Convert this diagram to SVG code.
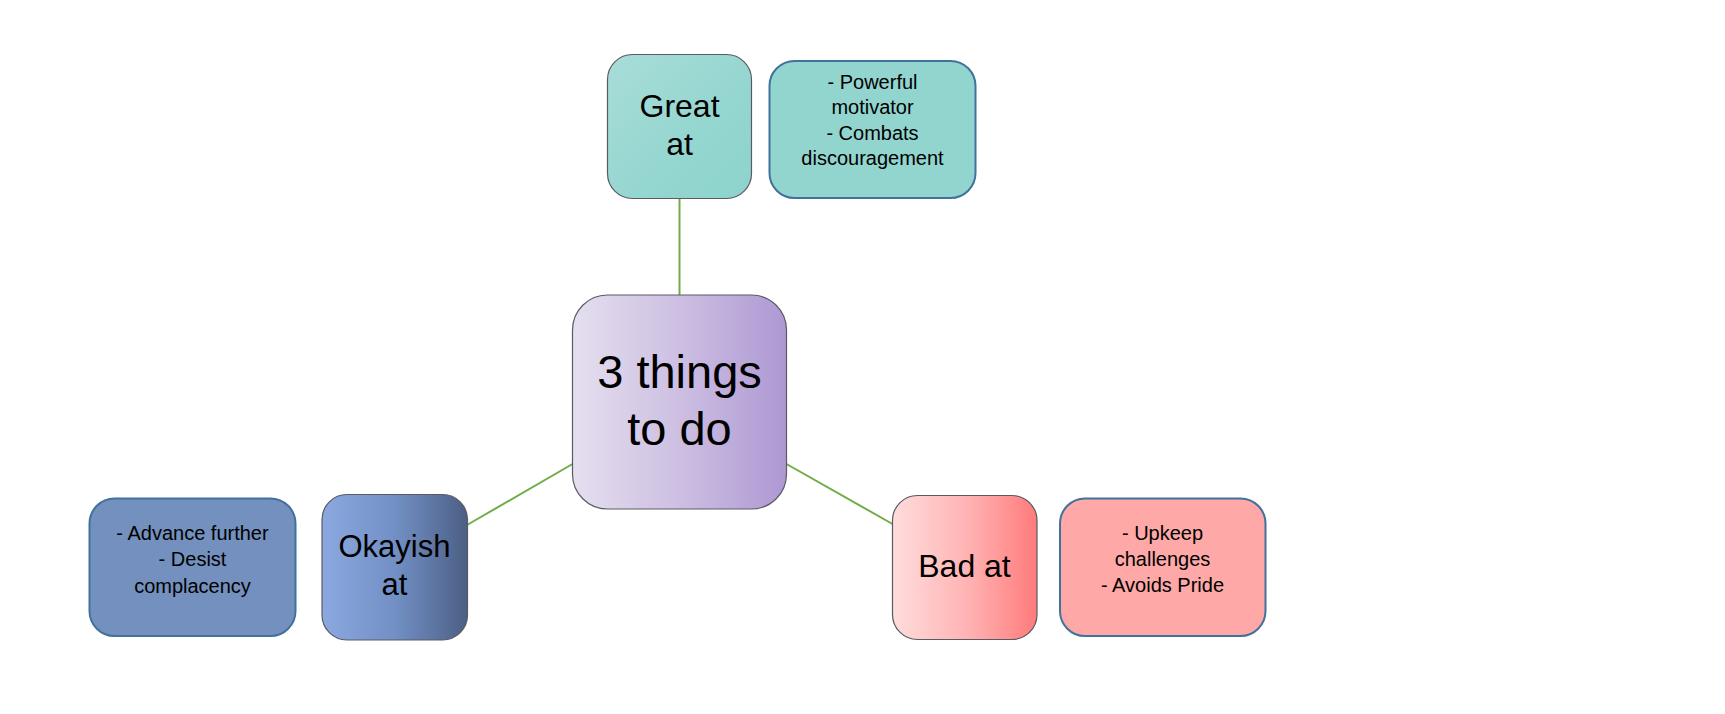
<svg xmlns="http://www.w3.org/2000/svg" width="1725" height="714" viewBox="0 0 1725 714">
<defs>
<linearGradient id="gGreat" x1="0" y1="0" x2="1" y2="1">
<stop offset="0" stop-color="#A9DDD8"/>
<stop offset="0.6" stop-color="#94D6D0"/>
<stop offset="1" stop-color="#8DD3CC"/>
</linearGradient>
<linearGradient id="gCenter" x1="0" y1="0" x2="1" y2="0">
<stop offset="0" stop-color="#E5DFEF"/>
<stop offset="0.5" stop-color="#CDBFE2"/>
<stop offset="1" stop-color="#AE98D3"/>
</linearGradient>
<linearGradient id="gOkay" x1="0" y1="0" x2="1" y2="0">
<stop offset="0" stop-color="#8BA8E0"/>
<stop offset="0.5" stop-color="#7290C5"/>
<stop offset="1" stop-color="#4C5F84"/>
</linearGradient>
<linearGradient id="gBad" x1="0" y1="0" x2="1" y2="0">
<stop offset="0" stop-color="#FFDCDC"/>
<stop offset="0.5" stop-color="#FFB5B5"/>
<stop offset="1" stop-color="#FF7B7B"/>
</linearGradient>
</defs>
<style>
.node{stroke:#5A5A64;stroke-width:1.2}
.note{stroke:#41719C;stroke-width:2}
.big{font-family:"Liberation Sans",Arial,sans-serif;fill:#000;text-anchor:middle}
.small{font-family:"Liberation Sans",Arial,sans-serif;font-size:20px;fill:#000;text-anchor:middle}
.conn{stroke:#70AD47;stroke-width:2;fill:none}
</style>
<rect width="1725" height="714" fill="#FFFFFF"/>
<g id="connectors">
<line class="conn" x1="679.5" y1="198" x2="679.5" y2="295"/>
<line class="conn" x1="572.5" y1="464" x2="467" y2="525"/>
<line class="conn" x1="786.5" y1="464" x2="892.5" y2="524"/>
</g>
<g id="node-center">
<rect class="node" x="572.5" y="295" width="214" height="214" rx="35" fill="url(#gCenter)"/>
<text class="big" font-size="47" x="679.5" y="388">3 things</text>
<text class="big" font-size="47" x="679.5" y="445">to do</text>
</g>
<g id="node-great">
<rect class="node" x="607.5" y="54.5" width="144" height="144" rx="25" fill="url(#gGreat)"/>
<text class="big" font-size="32" x="679.5" y="117">Great</text>
<text class="big" font-size="32" x="679.5" y="155">at</text>
</g>
<g id="note-great">
<rect class="note" x="769.5" y="61" width="206" height="137" rx="25" fill="#92D5CF"/>
<text class="small" x="872.5" y="88.5">- Powerful</text>
<text class="small" x="872.5" y="114">motivator</text>
<text class="small" x="872.5" y="139.5">- Combats</text>
<text class="small" x="872.5" y="165">discouragement</text>
</g>
<g id="node-okayish">
<rect class="node" x="322" y="494.5" width="145.5" height="145.5" rx="25" fill="url(#gOkay)"/>
<text class="big" font-size="31" x="394.5" y="557">Okayish</text>
<text class="big" font-size="31" x="394.5" y="595">at</text>
</g>
<g id="note-okayish">
<rect class="note" x="89.5" y="498.5" width="206" height="137.5" rx="25" fill="#7390BF"/>
<text class="small" x="192.5" y="539.5">- Advance further</text>
<text class="small" x="192.5" y="566">- Desist</text>
<text class="small" x="192.5" y="592.5">complacency</text>
</g>
<g id="node-bad">
<rect class="node" x="892.5" y="495.5" width="144.5" height="144" rx="25" fill="url(#gBad)"/>
<text class="big" font-size="32" x="964.5" y="577">Bad at</text>
</g>
<g id="note-bad">
<rect class="note" x="1060" y="498.5" width="205.5" height="137.5" rx="25" fill="#FFA8A8"/>
<text class="small" x="1162.5" y="540">- Upkeep</text>
<text class="small" x="1162.5" y="566">challenges</text>
<text class="small" x="1162.5" y="592">- Avoids Pride</text>
</g>
</svg>
